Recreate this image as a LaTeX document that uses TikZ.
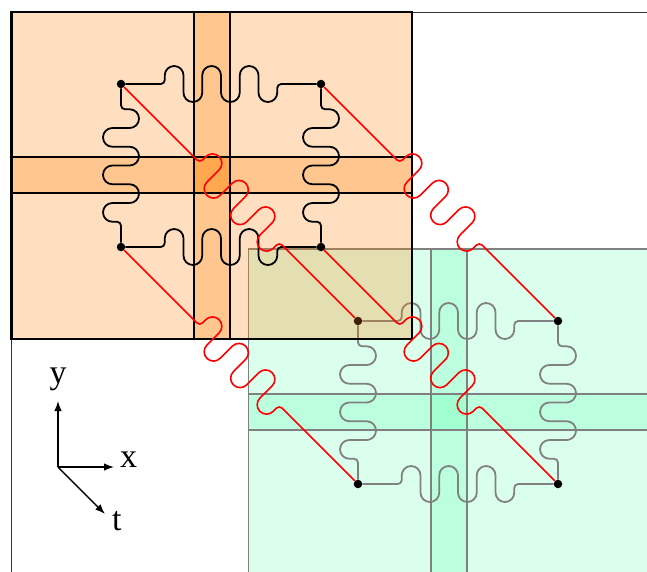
\documentclass[tikz,border=0pt]{standalone}
\usepackage{fontspec}
\setmainfont{Liberation Serif}
\usetikzlibrary{decorations,arrows.meta,positioning}

\definecolor{springgreen}{rgb}{0,1,0.5}

% one up lobe and one down lobe, starting at #1
\newcommand{\mperiod}[1]{%
  \pgfpathlineto{\pgfpoint{#1}{8.625pt}}%
  \pgfpatharc{180}{0}{9.375pt}%
  \pgfpathlineto{\pgfpoint{#1+18.75pt}{-8.625pt}}%
  \pgfpatharc{180}{360}{9.375pt}%
}
\pgfdeclaredecoration{meander}{initial}{%
  \state{initial}[width=1pt, next state=final]{%
    \pgfmathsetlengthmacro\mstart{(\pgfdecoratedpathlength-112.5pt)/2}%
    \pgfpathlineto{\pgfpoint{\mstart-4pt}{0pt}}%
    \pgfpatharc{270}{360}{4pt}%
    \mperiod{\mstart}%
    \mperiod{\mstart+37.5pt}%
    \mperiod{\mstart+75pt}%
    \pgfpathlineto{\pgfpoint{\mstart+112.5pt}{-4pt}}%
    \pgfpatharc{180}{90}{4pt}%
  }%
  \state{final}{\pgfpathlineto{\pgfpointdecoratedpathlast}}%
}

\tikzset{
  dot/.style={circle, fill=black, inner sep=0pt, minimum size=8.5pt},
  wiggle/.style={decorate, decoration=meander, line width=1.8pt},
  orangefill/.style={fill=orange, fill opacity=0.25},
  greenfill/.style={fill=springgreen, fill opacity=0.14},
  gridline/.style={line width=1.4pt},
  axis/.style={-{Latex[length=10pt,width=7.5pt]}, line width=1.4pt},
  axislabel/.style={inner sep=0pt, font=\fontsize{34}{40}\selectfont},
}

\begin{document}
\begin{tikzpicture}[x=1pt, y=-1pt]
  \useasboundingbox (0,0) rectangle (647,571);
  \clip (0,0) rectangle (647,571);
  \draw[black!80, line width=0.9pt] (11.5,12) rectangle (660,590);

  % shifted copy, green
  \begin{scope}[shift={(237,237)}]
    \fill[greenfill] (11.5,12) rectangle (412,339);
    \fill[greenfill] (194,12) rectangle (230,339);
    \fill[greenfill] (11.5,157) rectangle (412,193);
    \draw[gridline, black!50] (11.5,12) rectangle (412,339)
      (194,12) -- (194,339) (230,12) -- (230,339)
      (11.5,157) -- (412,157) (11.5,193) -- (412,193);
    \node[dot] (gNW) at (121,84) {};
    \node[dot] (gNE) at (321,84) {};
    \node[dot] (gSW) at (121,247) {};
    \node[dot] (gSE) at (321,247) {};
    \draw[wiggle, black!50] (gNW) -- (gNE);
    \draw[wiggle, black!50] (gSW) -- (gSE);
    \draw[wiggle, black!50] (gNW) -- (gSW);
    \draw[wiggle, black!50] (gNE) -- (gSE);
  \end{scope}

  % original, orange
  \fill[orangefill] (11.5,12) rectangle (412,339);
  \fill[orangefill] (194,12) rectangle (230,339);
  \fill[orangefill] (11.5,157) rectangle (412,193);
  \fill[orangefill] (194,157) rectangle (230,193);
  \draw[gridline] (194,12) -- (194,339) (230,12) -- (230,339)
    (11.5,157) -- (412,157) (11.5,193) -- (412,193);
  \draw[line width=2.6pt] (11.5,12) rectangle (412,339);
  \node[dot] (oNW) at (121,84) {};
  \node[dot] (oNE) at (321,84) {};
  \node[dot] (oSW) at (121,247) {};
  \node[dot] (oSE) at (321,247) {};
  \draw[wiggle] (oNW) -- (oNE);
  \draw[wiggle] (oSW) -- (oSE);
  \draw[wiggle] (oNW) -- (oSW);
  \draw[wiggle] (oNE) -- (oSE);

  % links
  \draw[wiggle, red, line width=1.6pt] (oNW) -- (gNW);
  \draw[wiggle, red, line width=1.6pt] (oNE) -- (gNE);
  \draw[wiggle, red, line width=1.6pt] (oSW) -- (gSW);
  \draw[wiggle, red, line width=1.6pt] (oSE) -- (gSE);

  % axes
  \coordinate (O) at (58,467);
  \coordinate (ytip) at (58,401);
  \coordinate (xtip) at (114,467);
  \coordinate (ttip) at (105,514);
  \draw[axis] (O) -- (ytip);
  \draw[axis] (O) -- (xtip);
  \draw[axis] (O) -- (ttip);
  \node[axislabel, anchor=base] (ylab) at (58,383) {y};
  \node[axislabel, anchor=base west] (xlab) at (120,467) {x};
  \node[axislabel, anchor=base west] (tlab) at (112,530) {t};
\end{tikzpicture}
\end{document}
